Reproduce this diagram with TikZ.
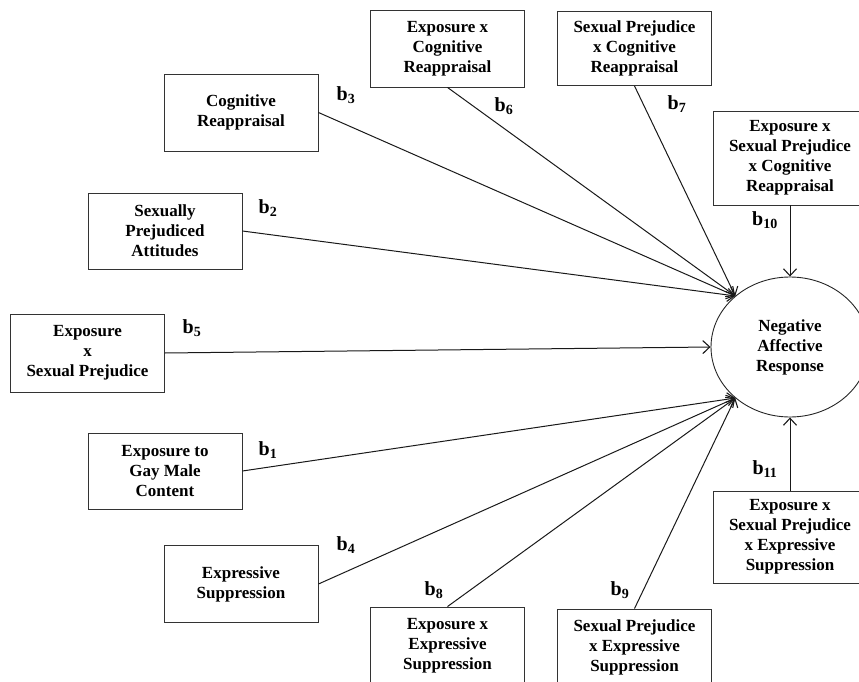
\documentclass[tikz,border=0pt]{standalone}
\usepackage{fontspec}
\setmainfont{Liberation Serif}
\usetikzlibrary{arrows.meta,shapes.geometric}

\begin{document}
\begin{tikzpicture}[x=1pt,y=-1pt,
  box/.style={draw=black!80, line width=0.9pt, inner sep=0pt, align=center,
    font=\fontsize{17}{20}\selectfont\bfseries, minimum width=154pt},
  latent/.style={draw=black!85, line width=0.9pt, ellipse, inner sep=0pt,
    minimum width=158pt, minimum height=140pt, align=center,
    font=\fontsize{17}{20}\selectfont\bfseries},
  path/.style={draw=black!90, line width=1pt,
    -{Straight Barb[length=7pt,width=13pt,line width=1.1pt]}},
  coef/.style={inner sep=0pt, font=\fontsize{20}{22}\selectfont\bfseries}
]
\useasboundingbox (0,0) rectangle (859,682);

% predictor boxes
\node[box, minimum height=77pt] (cr)   at (241,112.5) {Cognitive\\Reappraisal};
\node[box, minimum height=77pt] (ecr)  at (447.5,48.5) {Exposure x\\Cognitive\\Reappraisal};
\node[box, minimum height=74pt] (scr)  at (634.5,48.5) {Sexual Prejudice\\x Cognitive\\Reappraisal};
\node[box, minimum height=94pt] (escr) at (790,158) {Exposure x\\Sexual Prejudice\\x Cognitive\\Reappraisal};
\node[box, minimum height=76pt] (spa)  at (165,231) {Sexually\\Prejudiced\\Attitudes};
\node[box, minimum height=78pt] (esp)  at (87.5,353) {Exposure\\x\\Sexual Prejudice};
\node[box, minimum height=76pt] (egm)  at (165,471) {Exposure to\\Gay Male\\Content};
\node[box, minimum height=77pt] (es)   at (241,584) {Expressive\\Suppression};
\node[box, minimum height=77pt] (ees)  at (447.5,645.5) {Exposure x\\Expressive\\Suppression};
\node[box, minimum height=76pt] (ses)  at (634.5,647) {Sexual Prejudice\\x Expressive\\Suppression};
\node[box, minimum height=92pt] (eses) at (790,537) {Exposure x\\Sexual Prejudice\\x Expressive\\Suppression};

% outcome
\node[latent] (nar) at (790,347) {Negative\\Affective\\Response};

% paths into the outcome
\draw[path] (cr.east)    -- (nar.137);
\draw[path] (ecr.south)  -- (nar.137);
\draw[path] (scr.south)  -- (nar.137);
\draw[path] (spa.east)   -- (nar.137);
\draw[path] (escr.south) -- (nar.north);
\draw[path] (esp.east)   -- (nar.west);
\draw[path] (egm.east)   -- (nar.223);
\draw[path] (es.east)    -- (nar.223);
\draw[path] (ees.north)  -- (nar.223);
\draw[path] (ses.north)  -- (nar.223);
\draw[path] (eses.north) -- (nar.south);

% path coefficients
\node[coef] (b1)  at (268,450) {b\textsubscript{1}};
\node[coef] (b2)  at (268,208) {b\textsubscript{2}};
\node[coef] (b3)  at (346,95)  {b\textsubscript{3}};
\node[coef] (b4)  at (346,545) {b\textsubscript{4}};
\node[coef] (b5)  at (192,328) {b\textsubscript{5}};
\node[coef] (b6)  at (504,106) {b\textsubscript{6}};
\node[coef] (b7)  at (677,104) {b\textsubscript{7}};
\node[coef] (b8)  at (434,590) {b\textsubscript{8}};
\node[coef] (b9)  at (620,590) {b\textsubscript{9}};
\node[coef] (b10) at (765,220) {b\textsubscript{10}};
\node[coef] (b11) at (765,469) {b\textsubscript{11}};
\end{tikzpicture}
\end{document}
